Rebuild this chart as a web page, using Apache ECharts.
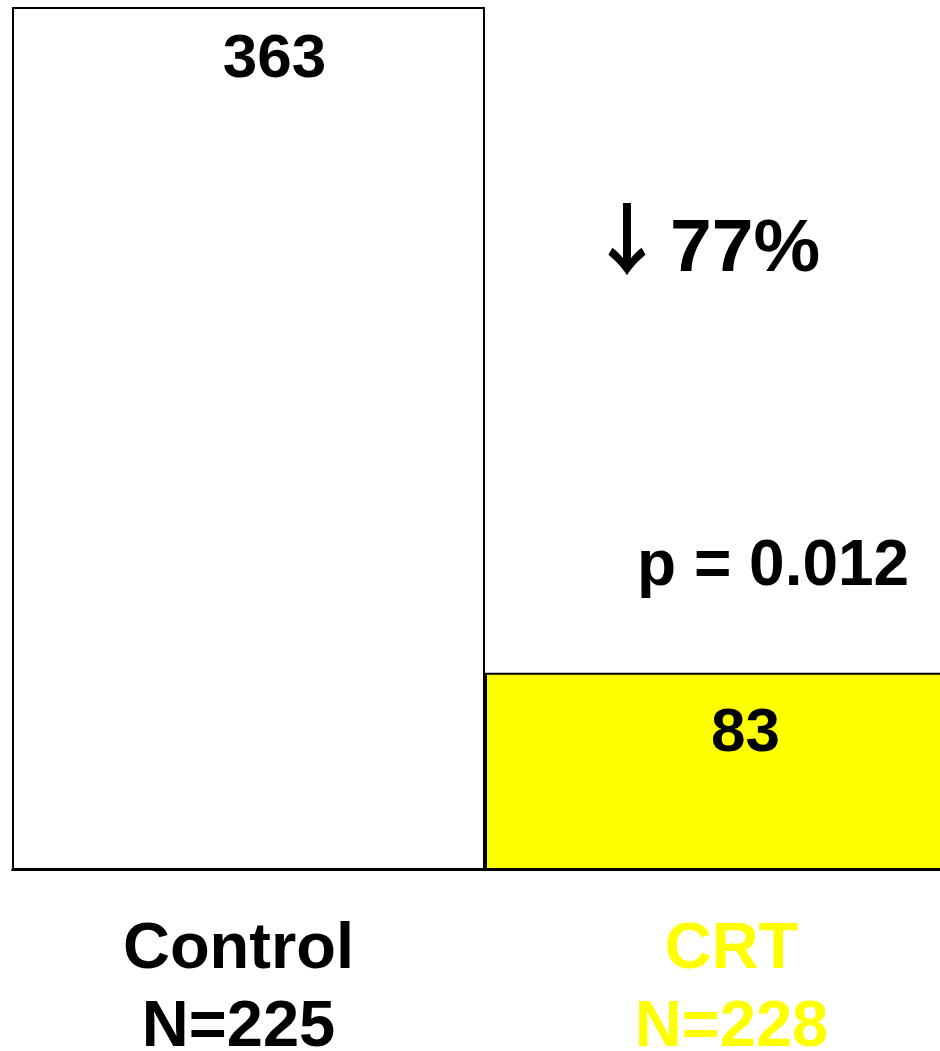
<!DOCTYPE html>
<html>
<head>
<meta charset="utf-8">
<style>
  html, body { margin: 0; padding: 0; background: #fff; }
  #chart { width: 940px; height: 1051px; }
</style>
<script src="https://cdn.jsdelivr.net/npm/echarts@6/dist/echarts.min.js"></script>
</head>
<body>
<div id="chart"></div>
<script>
// Event counts by group
const categories = ['Control', 'CRT'];
const sampleSizes = ['N=225', 'N=228'];
const values = [363, 83];
const reductionText = '77%';
const pValueText = 'p = 0.012';

const FONT = '"Liberation Sans", Arial, Helvetica, sans-serif';
const barColors = ['#ffffff', '#ffff00'];
const labelColors = ['#000000', '#ffff00'];
const valueLabelStyle = [
  { offset: [26, 0], distance: 22 },
  { offset: [24, 0], distance: 30 }
];

const chart = echarts.init(document.getElementById('chart'));

chart.setOption({
  animation: false,
  backgroundColor: '#ffffff',
  grid: {
    left: 12, width: 946, top: 7, bottom: 181,
    containLabel: false,
    outerBoundsMode: 'none'
  },
  xAxis: {
    type: 'category',
    data: categories,
    axisLine: { show: true, lineStyle: { color: '#000', width: 2 } },
    axisTick: { show: false },
    axisLabel: {
      interval: 0,
      margin: 41,
      hideOverlap: false,
      formatter: function (value, idx) {
        const key = idx === 0 ? 'a' : 'b';
        return '{' + key + '|' + value + '}\n{' + key + '|' + sampleSizes[idx] + '}';
      },
      rich: {
        a: { fontFamily: FONT, fontWeight: 'bold', fontSize: 65, lineHeight: 78, color: labelColors[0], padding: [0, 20, 0, 0] },
        b: { fontFamily: FONT, fontWeight: 'bold', fontSize: 65, lineHeight: 78, color: labelColors[1], padding: [0, 0, 0, 20] }
      }
    }
  },
  yAxis: {
    type: 'value',
    min: 0,
    max: 363,
    show: false,
    splitLine: { show: false }
  },
  series: [{
    type: 'bar',
    barWidth: '100%',
    barCategoryGap: 0,
    data: values.map(function (v, i) {
      return {
        value: v,
        itemStyle: { color: barColors[i], borderColor: '#000', borderWidth: 2 },
        label: {
          show: true,
          position: 'insideTop',
          distance: valueLabelStyle[i].distance,
          offset: valueLabelStyle[i].offset,
          fontFamily: FONT,
          fontWeight: 'bold',
          fontSize: 62,
          color: '#000'
        }
      };
    })
  }],
  graphic: [
    {
      type: 'text',
      x: 627,
      y: 239,
      style: {
        text: '↓',
        font: '600 78px "Noto Sans CJK SC", sans-serif',
        fill: '#000',
        textAlign: 'center',
        textVerticalAlign: 'middle'
      }
    },
    {
      type: 'text',
      x: 670,
      y: 250,
      style: {
        text: reductionText,
        font: 'bold 75px ' + FONT,
        fill: '#000',
        textAlign: 'left',
        textVerticalAlign: 'middle'
      }
    },
    {
      type: 'text',
      x: 637,
      y: 567,
      style: {
        text: pValueText,
        font: 'bold 64px ' + FONT,
        fill: '#000',
        textAlign: 'left',
        textVerticalAlign: 'middle'
      }
    }
  ]
});
</script>
</body>
</html>
